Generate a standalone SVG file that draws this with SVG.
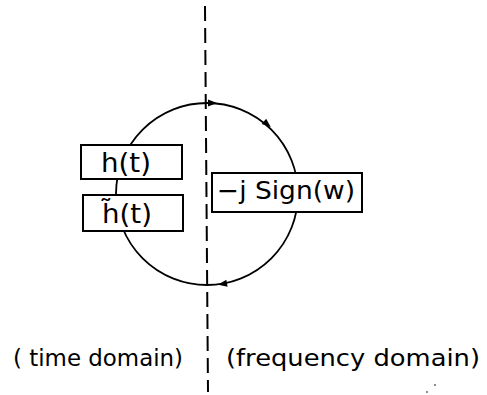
<svg xmlns="http://www.w3.org/2000/svg" width="487" height="395" viewBox="0 0 487 395">
  <style>
    .bg { fill: #ffffff; }
    .box { fill: #ffffff; stroke: #000; stroke-width: 2; }
    .lbl { font-family: "DejaVu Sans", "Liberation Sans", sans-serif; fill: #000; }
    .loop { fill: none; stroke: #000; stroke-width: 1.8; }
    .split { fill: none; stroke: #000; stroke-width: 2; stroke-dasharray: 15 7; }
    .tip { fill: #000; }
  </style>
  <defs>
    <!-- small direction tip pointing along +x -->
    <path id="tip" d="M5,0 L-4,-3.5 L-4,3.5 Z"/>
  </defs>
  <rect class="bg" x="0" y="0" width="487" height="395"/>

  <!-- connectors: transform loop and domain divider -->
  <g id="connectors">
    <circle class="loop" cx="207" cy="194" r="91"/>
    <path class="split" d="M205,6 L208,392"/>
    <use href="#tip" class="tip" transform="translate(212,103)"/>
    <use href="#tip" class="tip" transform="translate(267,124) rotate(40)"/>
    <use href="#tip" class="tip" transform="translate(223,284) rotate(170)"/>
  </g>

  <g id="node-h">
    <rect class="box" x="81" y="145" width="101" height="34"/>
    <text class="lbl" x="126" y="172" font-size="26" text-anchor="middle" textLength="50" lengthAdjust="spacingAndGlyphs">h(t)</text>
  </g>

  <g id="node-htilde">
    <rect class="box" x="83" y="195" width="100" height="36"/>
    <text class="lbl" x="127" y="223" font-size="26" text-anchor="middle" textLength="50" lengthAdjust="spacingAndGlyphs">h̃(t)</text>
  </g>

  <g id="node-sign">
    <rect class="box" x="212" y="173" width="150" height="39"/>
    <text class="lbl" x="217" y="199" font-size="25" textLength="138" lengthAdjust="spacingAndGlyphs">−j  Sign(w)</text>
  </g>

  <g id="domain-labels">
    <text class="lbl" x="13" y="366" font-size="23" textLength="170" lengthAdjust="spacingAndGlyphs">( time domain)</text>
    <text class="lbl" x="226" y="366" font-size="23" textLength="254" lengthAdjust="spacingAndGlyphs">(frequency domain)</text>
  </g>

  <g id="specks" fill="#555">
    <circle cx="435" cy="385" r="0.9"/>
    <circle cx="427" cy="392" r="0.9"/>
  </g>
</svg>
